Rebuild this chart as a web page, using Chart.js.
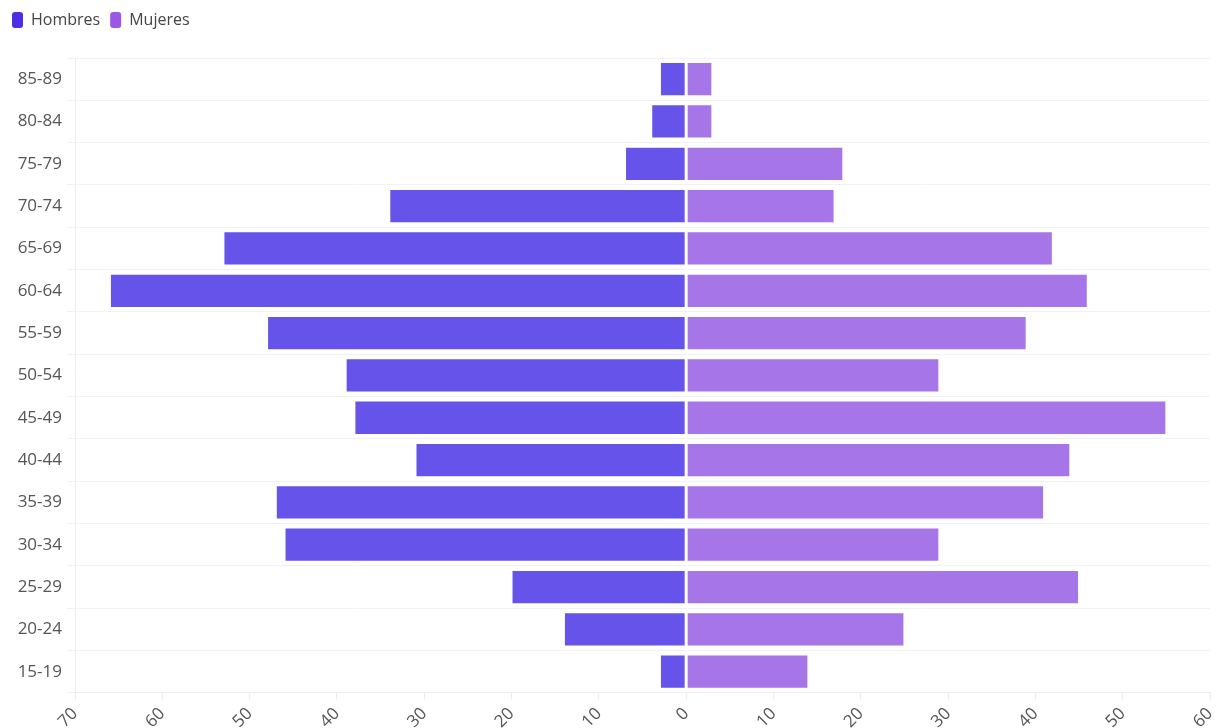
<!DOCTYPE html>
<html>
<head>
<meta charset="utf-8">
<script src="https://cdn.jsdelivr.net/npm/chart.js@4"></script>
<style>
  html, body { margin: 0; padding: 0; background: #fff; }
  #wrap { width: 1217px; height: 728px; }
</style>
</head>
<body>
<div id="wrap"><canvas id="chart"></canvas></div>
<script>
// grupos de edad (de arriba hacia abajo)
const grupos = ['85-89', '80-84', '75-79', '70-74', '65-69', '60-64', '55-59', '50-54',
                '45-49', '40-44', '35-39', '30-34', '25-29', '20-24', '15-19'];
const hombres = [3, 4, 7, 34, 53, 66, 48, 39, 38, 31, 47, 46, 20, 14, 3];
const mujeres = [3, 3, 18, 17, 42, 46, 39, 29, 55, 44, 41, 29, 45, 25, 14];

const colorHombres = '#6553ea';
const colorMujeres = '#a675e8';
const legendColors = ['#4b2fe6', '#9a57e6'];

// espacio extra bajo la leyenda
const legendGap = {
    id: 'legendGap',
    beforeInit(chart) {
        const fit = chart.legend.fit;
        chart.legend.fit = function () {
            fit.bind(chart.legend)();
            this.height += 20;
        };
    }
};

new Chart(document.getElementById('chart').getContext('2d'), {
    type: 'bar',
    data: {
        labels: grupos,
        datasets: [{
            label: 'Hombres',
            data: hombres.map(v => -v),
            backgroundColor: colorHombres,
            borderColor: '#ffffff',
            borderWidth: 1,
            borderSkipped: false,
            barPercentage: 0.9,
            categoryPercentage: 0.9
        }, {
            label: 'Mujeres',
            data: mujeres,
            backgroundColor: colorMujeres,
            borderColor: '#ffffff',
            borderWidth: 1,
            borderSkipped: false,
            barPercentage: 0.9,
            categoryPercentage: 0.9
        }]
    },
    options: {
        indexAxis: 'y',
        responsive: true,
        maintainAspectRatio: false,
        animation: false,
        layout: { padding: { left: 2, right: 0, top: 2, bottom: 0 } },
        plugins: {
            legend: {
                position: 'top',
                align: 'start',
                labels: {
                    boxWidth: 11,
                    boxHeight: 16,
                    useBorderRadius: true,
                    borderRadius: 3,
                    padding: 10,
                    color: '#444',
                    font: { family: 'Open Sans', size: 16 },
                    generateLabels: (chart) => chart.data.datasets.map((ds, i) => ({
                        text: ds.label,
                        fillStyle: legendColors[i],
                        strokeStyle: legendColors[i],
                        lineWidth: 0,
                        borderRadius: 3,
                        datasetIndex: i,
                        fontColor: '#444'
                    }))
                }
            },
            tooltip: {
                callbacks: {
                    label: (ctx) => ctx.dataset.label + ': ' + Math.abs(ctx.raw)
                }
            }
        },
        scales: {
            x: {
                stacked: true,
                min: -70,
                max: 60,
                afterFit: (scale) => {
                    scale.paddingRight = 7;
                    scale.paddingLeft = 0;
                    scale.height -= 8;
                },
                ticks: {
                    stepSize: 10,
                    maxRotation: 45,
                    minRotation: 45,
                    padding: 4,
                    color: '#555',
                    font: { family: 'Open Sans', size: 17 },
                    callback: (v) => Math.abs(v)
                },
                grid: {
                    drawOnChartArea: false,
                    drawTicks: true,
                    tickLength: 7,
                    color: '#eeeeee'
                },
                border: { color: '#eeeeee' }
            },
            y: {
                stacked: true,
                afterFit: (scale) => { scale.width = 73; },
                ticks: {
                    color: '#555',
                    padding: 5,
                    font: { family: 'Open Sans', size: 17 }
                },
                grid: {
                    color: '#f2f2f2',
                    tickLength: 8
                },
                border: { color: '#eeeeee' }
            }
        }
    },
    plugins: [legendGap]
});
</script>
</body>
</html>
